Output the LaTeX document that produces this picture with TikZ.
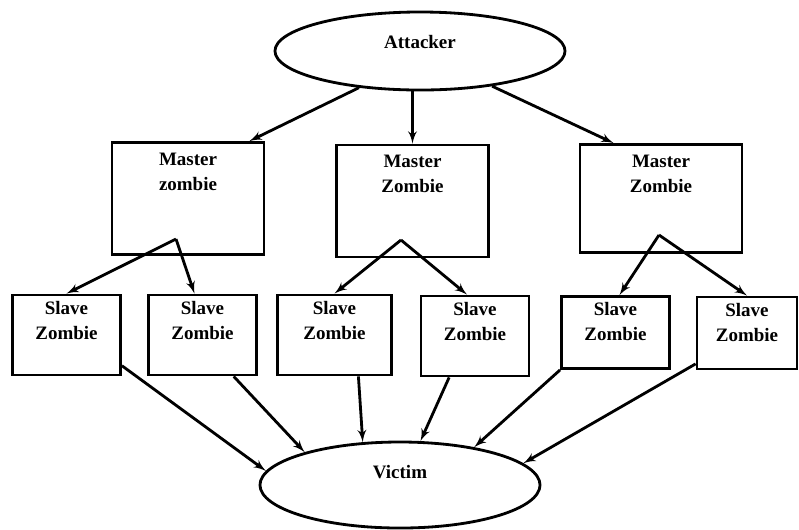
\documentclass[tikz,border=0pt]{standalone}
\usepackage{fontspec}
\setmainfont{Liberation Serif}
\usepackage{tikz}
\usetikzlibrary{shapes,arrows,positioning}
\tikzstyle{master} = [rectangle, draw, line width=2pt, minimum width=3.8cm, minimum height=2.8cm]
\tikzstyle{slave} = [rectangle, draw, line width=2pt, minimum width=2.7cm, minimum height=2cm]
\tikzstyle{oval} = [ellipse, draw, line width=2pt, inner sep=0pt]
\tikzstyle{caption} = [align=center, inner sep=0pt, font=\bfseries\fontsize{13.5}{18}\selectfont]
\tikzstyle{line} = [draw, line width=2pt, -latex']

\begin{document}
\begin{tikzpicture}[x=0.025cm, y=-0.025cm]
\useasboundingbox (0,0) rectangle (799,529);
\node [oval, minimum width=7.25cm, minimum height=1.95cm] (attacker) at (420,51) {};
\node [caption] (attackertxt) at ([yshift=0.22cm]attacker.center) {Attacker};
\node [master] (master1) at (188,198.5) {};
\node [caption, below=8pt of master1.north] (master1txt) {Master\\zombie};
\node [master] (master2) at (412.5,201) {};
\node [caption, below=8pt of master2.north] (master2txt) {Master\\Zombie};
\node [master, minimum width=4.05cm, minimum height=2.7cm] (master3) at (661,198.5) {};
\node [caption, below=8pt of master3.north] (master3txt) {Master\\Zombie};
\node [slave] (slave1) at (66.5,335) {};
\node [caption, below=5pt of slave1.north] (slave1txt) {Slave\\Zombie};
\node [slave] (slave2) at (202.5,335) {};
\node [caption, below=5pt of slave2.north] (slave2txt) {Slave\\Zombie};
\node [slave, minimum width=2.85cm] (slave3) at (334.5,335) {};
\node [caption, below=5pt of slave3.north] (slave3txt) {Slave\\Zombie};
\node [slave] (slave4) at (475,336) {};
\node [caption, below=5pt of slave4.north] (slave4txt) {Slave\\Zombie};
\node [slave, minimum height=1.8cm] (slave5) at (615.5,332.5) {};
\node [caption, below=5pt of slave5.north] (slave5txt) {Slave\\Zombie};
\node [slave, minimum width=2.5cm, minimum height=1.8cm] (slave6) at (747,333) {};
\node [caption, below=5pt of slave6.north] (slave6txt) {Slave\\Zombie};
\node [oval, minimum width=7cm, minimum height=2.15cm] (victim) at (400,485) {};
\node [caption] (victimtxt) at ([yshift=0.32cm]victim.center) {Victim};
\coordinate (fork1) at (176,239);
\coordinate (fork2) at (401,240);
\coordinate (fork3) at (659,235);
% attacker to masters
\path [line] (attacker.211) -- ([xshift=-0.4cm]master1.north east);
\path [line] (attacker.south -| master2.north) -- (master2.north);
\path [line] (attacker.334) -- ([xshift=0.875cm]master3.north west);
% masters to slaves
\path [line] (fork1) -- (slave1.north);
\path [line] (fork1) -- ([xshift=-0.2cm]slave2.north);
\path [line] (fork2) -- (slave3.north);
\path [line] (fork2) -- ([xshift=-0.2cm]slave4.north);
\path [line] (fork3) -- ([xshift=0.1cm]slave5.north);
\path [line] (fork3) -- (slave6.north);
% slaves to victim
\path [line] (slave1.-29) -- (victim.174);
\path [line] (slave2.-53) -- (victim.161);
\path [line] (slave3.-60) -- (victim.131);
\path [line] (slave4.238) -- (victim.65);
\path [line] (slave5.south west) -- (victim.27);
\path [line] (slave6.211) -- (victim.10);
\end{tikzpicture}
\end{document}
